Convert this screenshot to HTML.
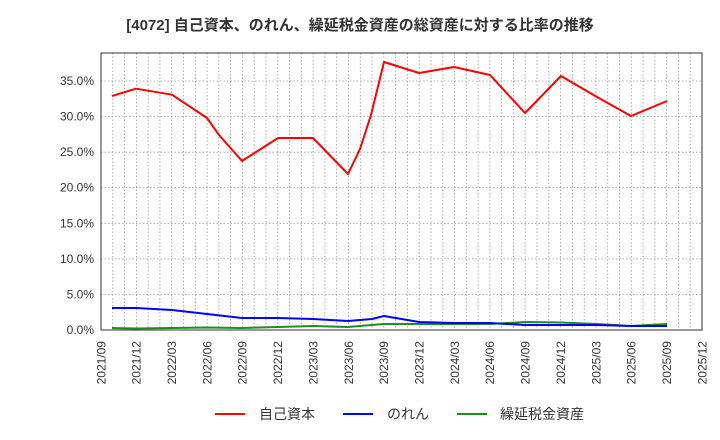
<!DOCTYPE html>
<html><head><meta charset="utf-8"><style>
html,body{margin:0;padding:0;background:#fff;}
svg{display:block;font-family:"Liberation Sans","Noto Sans CJK JP",sans-serif;}
</style></head><body>
<svg width="720" height="440" viewBox="0 0 720 440">
<text x="360" y="30" text-anchor="middle" font-size="15" font-weight="bold" fill="#333">[4072]  自己資本、のれん、繰延税金資産の総資産に対する比率の推移</text>
<g stroke="#999" stroke-width="0.8" stroke-dasharray="1.5,2" fill="none">
<path d="M101 294.4H702M101 258.9H702M101 223.3H702M101 187.7H702M101 152.2H702M101 116.6H702M101 81H702"/>
<path d="M112.8 53V330M124.6 53V330M136.4 53V330M148.1 53V330M159.9 53V330M171.7 53V330M183.5 53V330M195.3 53V330M207.1 53V330M218.8 53V330M230.6 53V330M242.4 53V330M254.2 53V330M266 53V330M277.8 53V330M289.6 53V330M301.3 53V330M313.1 53V330M324.9 53V330M336.7 53V330M348.5 53V330M360.3 53V330M372 53V330M383.8 53V330M395.6 53V330M407.4 53V330M419.2 53V330M431 53V330M442.8 53V330M454.5 53V330M466.3 53V330M478.1 53V330M489.9 53V330M501.7 53V330M513.5 53V330M525.2 53V330M537 53V330M548.8 53V330M560.6 53V330M572.4 53V330M584.2 53V330M596 53V330M607.7 53V330M619.5 53V330M631.3 53V330M643.1 53V330M654.9 53V330M666.7 53V330M678.4 53V330M690.2 53V330"/>
</g>
<rect x="101" y="53" width="601" height="277" fill="none" stroke="#333" stroke-width="1"/>
<g fill="none" stroke-width="2" stroke-linejoin="round">
<polyline stroke="#228B22" points="112,328 136,328.5 172,328 207,327.5 242,328 278,327 313,326 348,327 384,324 419,324 454,324 490,324 525,322 561,322.5 597,324 631,326 667,324"/>
<polyline stroke="#0000ff" points="112,308 136,308 172,310 207,314 242,318 278,318 313,319 348,321 372,319 384,316 419,322 454,323 490,323 525,325 561,325 597,325 631,326 667,326"/>
<polyline stroke="#ff0000" points="112,96 136,88.7 172,94.7 207,118 219,135 242,161 278,138 313,138 348,174 360,149 371,115 384,62 419,73 454,67 490,75 525,113 561,76 597,97 631,116 667,101"/>
</g>
<g font-size="12" fill="#333" text-anchor="end">
<text x="94" y="334">0.0%</text>
<text x="94" y="298.4">5.0%</text>
<text x="94" y="262.9">10.0%</text>
<text x="94" y="227.3">15.0%</text>
<text x="94" y="191.7">20.0%</text>
<text x="94" y="156.2">25.0%</text>
<text x="94" y="120.6">30.0%</text>
<text x="94" y="85">35.0%</text>
</g>
<g font-size="12" fill="#333" text-anchor="end">
<text transform="translate(105.3,341) rotate(-90)">2021/09</text>
<text transform="translate(140.7,341) rotate(-90)">2021/12</text>
<text transform="translate(176,341) rotate(-90)">2022/03</text>
<text transform="translate(211.4,341) rotate(-90)">2022/06</text>
<text transform="translate(246.7,341) rotate(-90)">2022/09</text>
<text transform="translate(282.1,341) rotate(-90)">2022/12</text>
<text transform="translate(317.4,341) rotate(-90)">2023/03</text>
<text transform="translate(352.8,341) rotate(-90)">2023/06</text>
<text transform="translate(388.1,341) rotate(-90)">2023/09</text>
<text transform="translate(423.5,341) rotate(-90)">2023/12</text>
<text transform="translate(458.8,341) rotate(-90)">2024/03</text>
<text transform="translate(494.2,341) rotate(-90)">2024/06</text>
<text transform="translate(529.5,341) rotate(-90)">2024/09</text>
<text transform="translate(564.9,341) rotate(-90)">2024/12</text>
<text transform="translate(600.3,341) rotate(-90)">2025/03</text>
<text transform="translate(635.6,341) rotate(-90)">2025/06</text>
<text transform="translate(671,341) rotate(-90)">2025/09</text>
<text transform="translate(706.3,341) rotate(-90)">2025/12</text>
</g>
<g font-size="14" fill="#333">
<line x1="215" y1="414" x2="245" y2="414" stroke="#ff0000" stroke-width="2"/>
<text x="259" y="419">自己資本</text>
<line x1="343" y1="414" x2="373" y2="414" stroke="#0000ff" stroke-width="2"/>
<text x="387" y="419">のれん</text>
<line x1="457" y1="414" x2="487" y2="414" stroke="#228B22" stroke-width="2"/>
<text x="500" y="419">繰延税金資産</text>
</g>
</svg>
</body></html>
